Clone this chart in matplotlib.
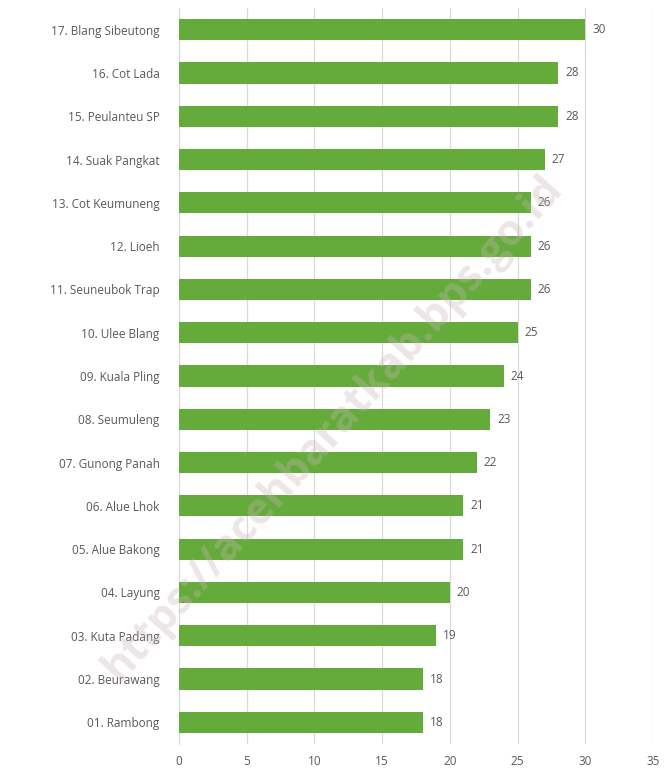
import matplotlib
matplotlib.use("Agg")
import matplotlib.pyplot as plt

categories = ["01. Rambong", "02. Beurawang", "03. Kuta Padang", "04. Layung",
              "05. Alue Bakong", "06. Alue Lhok", "07. Gunong Panah", "08. Seumuleng",
              "09. Kuala Pling", "10. Ulee Blang", "11. Seuneubok Trap", "12. Lioeh",
              "13. Cot Keumuneng", "14. Suak Pangkat", "15. Peulanteu SP", "16. Cot Lada",
              "17. Blang Sibeutong"]
values = [18, 18, 19, 20, 21, 21, 22, 23, 24, 25, 26, 26, 26, 27, 28, 28, 30]
xticks = [0, 5, 10, 15, 20, 25, 30, 35]

plt.rcParams['font.family'] = ['Open Sans', 'DejaVu Sans']

fig = plt.figure(figsize=(6.64, 7.76), dpi=100)
ax = fig.add_axes([179/664, 1-744/776, (653-179)/664, (744-8)/776])

y = list(range(len(categories)))
ax.barh(y, values, height=0.49, color='#65ab3b', zorder=3)
for yi, v in zip(y, values):
    ax.text(v + 0.5, yi, str(v), va='center', ha='left', fontsize=8.5, color='#595959', zorder=4)

ax.set_yticks(y)
ax.set_yticklabels(categories, fontsize=8.5, color='#595959')
ax.set_xticks(xticks)
ax.set_xticklabels([str(t) for t in xticks], fontsize=8.5, color='#595959')
ax.set_xlim(0, 35)
ax.set_ylim(-0.5, len(categories) - 0.5)
ax.grid(axis='x', color='#d9d9d9', linewidth=0.9, zorder=0)
for s in ['top', 'right', 'bottom']:
    ax.spines[s].set_visible(False)
ax.spines['left'].set_color('#d9d9d9')
ax.tick_params(axis='both', length=0, pad=8)
ax.tick_params(axis='y', pad=14)

fig.text(333/664, 1-428/776, "https://acehbaratkab.bps.go.id", rotation=48,
         ha='center', va='center', fontsize=31, fontweight='bold',
         color='#c9b4b8', alpha=0.33, zorder=10)

fig.savefig("out.png", dpi=100, facecolor='white')
